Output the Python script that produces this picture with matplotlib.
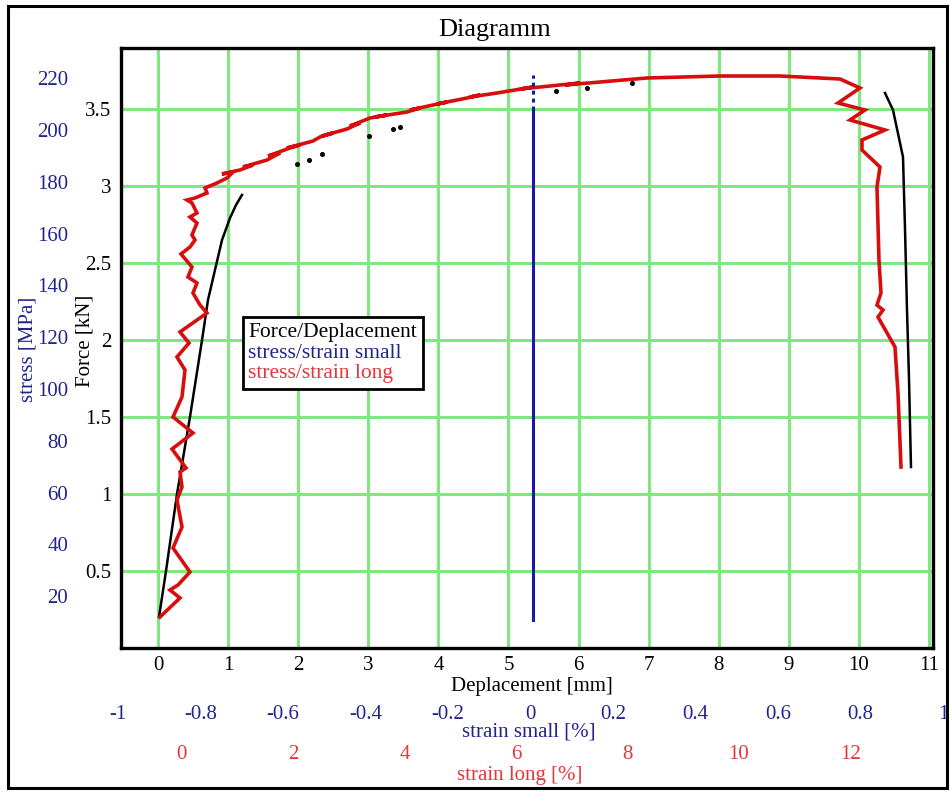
import matplotlib
matplotlib.use('Agg')
import matplotlib.pyplot as plt
from matplotlib.patches import Rectangle

# ---------------- data ----------------
# Force / Deplacement (black) : deplacement [mm], force [kN]
black_load_d = [0.014, 0.114, 0.271, 0.456, 0.628, 0.713, 0.813, 0.913, 1.027, 1.113, 1.198]
black_load_f = [0.201, 0.500, 1.000, 1.500, 2.000, 2.260, 2.455, 2.649, 2.792, 2.877, 2.942]
black_dots_d = [1.983, 2.154, 2.340, 3.010, 3.352, 3.452, 5.678, 6.120, 6.762]
black_dots_f = [3.143, 3.169, 3.208, 3.325, 3.370, 3.383, 3.617, 3.636, 3.669]
black_end_d = [10.371, 10.485, 10.628, 10.656, 10.685, 10.713, 10.742]
black_end_f = [3.604, 3.494, 3.188, 2.734, 2.195, 1.760, 1.175]

# stress / strain long (red) : strain long [%], stress [MPa]
red_strain = [-0.386, -0.027, -0.206, -0.063, 0.152, -0.152, 0.009, -0.081, 0.009, -0.027,
              0.081, -0.170, 0.206, -0.152, 0.009, 0.063, -0.081, 0.135, -0.027, 0.457,
              0.332, 0.206, 0.278, 0.117, 0.188, -0.009, 0.152, 0.242, 0.188, 0.278,
              0.152, 0.278, 0.188, 0.099, 0.242, 0.457, 0.422, 0.637, 0.816, 0.924,
              0.726, 1.049, 1.283, 1.103, 1.534, 1.767, 1.552, 1.946, 2.126, 1.892,
              2.359, 2.484, 2.718, 2.520, 2.969, 3.202, 3.022, 3.381, 3.686, 3.471,
              4.045, 4.278, 4.099, 4.511, 4.762, 4.583, 5.121, 5.354, 5.175, 5.659,
              6.305, 6.072, 7.148, 6.879, 8.350, 9.659, 10.735, 11.812, 12.170, 11.776,
              12.260, 11.991, 12.619, 12.206, 12.206, 12.529, 12.475, 12.511, 12.547, 12.475,
              12.583, 12.493, 12.798, 12.852, 12.906]
red_stress = [11.97, 19.31, 22.39, 24.32, 29.34, 38.61, 46.72, 57.14, 62.16, 67.95,
              69.50, 76.83, 83.01, 89.19, 96.91, 107.34, 112.36, 117.76, 122.01, 129.34,
              132.43, 137.07, 140.93, 143.24, 147.10, 152.12, 154.83, 157.53, 159.46, 164.09,
              166.41, 167.95, 171.81, 172.97, 173.75, 175.68, 177.61, 179.54, 181.47, 183.78,
              183.01, 184.56, 186.49, 185.71, 188.42, 191.12, 189.96, 193.05, 194.21, 193.05,
              195.75, 197.30, 198.84, 197.68, 200.39, 202.70, 201.54, 204.63, 205.79, 205.02,
              206.95, 208.49, 207.72, 209.65, 210.81, 210.04, 212.36, 213.51, 212.74, 214.29,
              216.60, 215.83, 218.15, 217.37, 220.08, 220.85, 220.85, 219.69, 216.22, 210.42,
              207.72, 203.86, 200.00, 196.14, 192.28, 185.71, 177.99, 149.81, 137.07, 132.43,
              130.50, 127.80, 116.22, 98.46, 69.88]

# stress / strain small (blue) : strain small [%], stress [MPa]
blue_strain = [0.005, 0.005]
blue_stress = [10.8, 207.7]
blue_top_strain = [0.005, 0.005]
blue_top_stress = [207.7, 221.2]

disp_ticks = list(range(0, 12))
force_ticks = [0.5, 1, 1.5, 2, 2.5, 3, 3.5]
force_labels = ['0.5', '1', '1.5', '2', '2.5', '3', '3.5']
stress_ticks = [20, 40, 60, 80, 100, 120, 140, 160, 180, 200, 220]
small_ticks = [-1, -0.8, -0.6, -0.4, -0.2, 0, 0.2, 0.4, 0.6, 0.8, 1]
small_labels = ['-1', '-0.8', '-0.6', '-0.4', '-0.2', '0', '0.2', '0.4', '0.6', '0.8', '1']
long_ticks = [0, 2, 4, 6, 8, 10, 12]

# ---------------- style ----------------
plt.rcParams['font.family'] = ['Liberation Serif', 'DejaVu Serif']
plt.rcParams['font.size'] = 15
NAVY = '#23238f'
RED_TXT = '#e8343a'
RED_LINE = '#d80e0e'
BLUE_LINE = '#1a1aa6'
GREEN = '#80e880'

W, H = 950, 792
fig = plt.figure(figsize=(W / 100, H / 100), dpi=100)


def rect(l, t, r, b):
    return [l / W, 1 - b / H, (r - l) / W, (b - t) / H]


# main axes: Force / Deplacement
ax = fig.add_axes(rect(121, 48, 933, 648))
ax.set_xlim(-0.528, 11.056)
ax.set_ylim(0, 3.896)
ax.set_xticks(disp_ticks)
ax.set_yticks(force_ticks)
ax.set_yticklabels(force_labels)
ax.grid(True, color=GREEN, lw=2.2)
ax.set_axisbelow(True)
ax.tick_params(length=0, labelsize=15)
ax.tick_params(axis='x', pad=6)
ax.tick_params(axis='y', pad=7)
for s in ax.spines.values():
    s.set_linewidth(2.4)
ax.set_xlabel('Deplacement [mm]', fontsize=15)
ax.xaxis.label.set_va('center')
ax.xaxis.set_label_coords(0.506, -0.064)
ax.set_ylabel('Force [kN]', fontsize=15)
ax.yaxis.label.set_va('center')
ax.yaxis.set_label_coords(-0.044, 0.512)

lb, = ax.plot(black_load_d, black_load_f, color='black', lw=1.8)
ax.plot(black_dots_d, black_dots_f, 'o', color='black', ms=2.6)
ax.plot(black_end_d, black_end_f, color='black', lw=1.8)

# strain long / stress axes (red)
axl = fig.add_axes(rect(121, 48, 933, 648), label='long')
axl.patch.set_visible(False)
for s in axl.spines.values():
    s.set_visible(False)
axl.set_xlim(-1.085, 13.480)
axl.set_ylim(0, 231.66)
axl.set_xticks(long_ticks)
axl.set_yticks(stress_ticks)
axl.tick_params(length=0, labelsize=15)
axl.tick_params(axis='x', pad=70, labelcolor=RED_TXT)
axl.tick_params(axis='y', pad=38, labelcolor=NAVY)
axl.set_xlabel('strain long [%]', fontsize=15, color=RED_TXT)
axl.xaxis.label.set_va('center')
axl.xaxis.set_label_coords(0.491, -0.213)
axl.set_ylabel('stress [MPa]', fontsize=15, color=NAVY)
axl.yaxis.label.set_va('center')
axl.yaxis.set_label_coords(-0.114, 0.498)
lr, = axl.plot(red_strain, red_stress, color=RED_LINE, lw=2.6, solid_joinstyle='miter')

# strain small / stress axes (blue)
axs = fig.add_axes(rect(118, 48, 943, 648), label='small')
axs.patch.set_visible(False)
for s in axs.spines.values():
    s.set_visible(False)
axs.set_xlim(-1, 1)
axs.set_ylim(0, 231.66)
axs.set_yticks([])
axs.set_xticks(small_ticks)
axs.set_xticklabels(small_labels)
axs.tick_params(length=0, labelsize=15, pad=41, labelcolor=NAVY)
axs.set_xlabel('strain small [%]', fontsize=15, color=NAVY)
axs.xaxis.label.set_va('center')
axs.xaxis.set_label_coords(0.498, -0.14)
lbl, = axs.plot(blue_strain, blue_stress, color=BLUE_LINE, lw=2.2)
axs.plot(blue_top_strain, blue_top_stress, color=BLUE_LINE, lw=2.2, ls=(0, (1.3, 1.3)))

# legend
leg = fig.legend([lb, lbl, lr], ['Force/Deplacement', 'stress/strain small', 'stress/strain long'],
                 loc='upper left', bbox_to_anchor=(243 / W, 1 - 317 / H),
                 handlelength=0, handletextpad=0, borderpad=0.25, labelspacing=0.02,
                 borderaxespad=0, fancybox=False, framealpha=1, edgecolor='black',
                 fontsize=15.5, labelcolor=['black', NAVY, RED_TXT])
leg.get_frame().set_linewidth(2)

# title and frame
fig.text(495 / W, 1 - 30 / H, 'Diagramm', ha='center', va='center', fontsize=19)
fig.add_artist(Rectangle((8 / W, 1 - 788 / H), 939 / W, 782 / H, transform=fig.transFigure,
                         fill=False, lw=2.2, ec='black'))

fig.savefig('out.png', dpi=100)
